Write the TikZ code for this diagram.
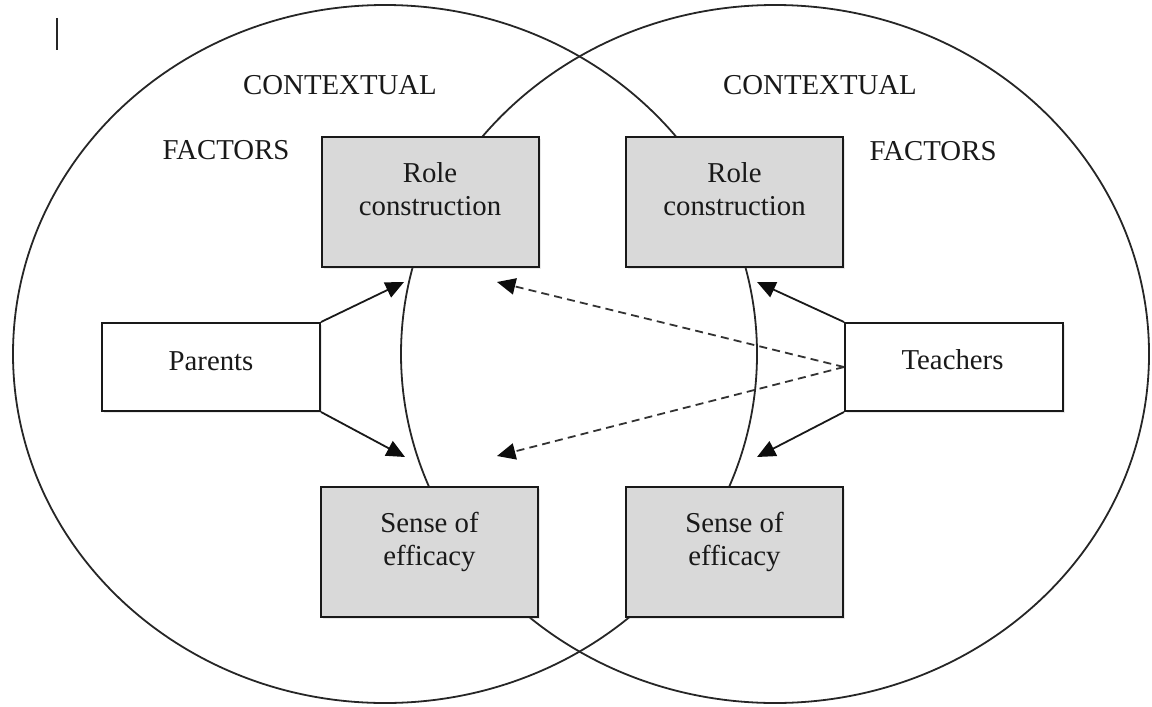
\documentclass[tikz,border=0pt]{standalone}
\usepackage{fontspec}
\setmainfont{Liberation Serif}
\usetikzlibrary{arrows.meta,shadows}

\begin{document}
\begin{tikzpicture}[x=0.25pt,y=-0.25pt,
  every node/.style={font=\fontsize{7.2pt}{8.25pt}\selectfont, text=black!90},
  ring/.style={draw=black!85, line width=0.45pt},
  factorbox/.style={draw=black!90, line width=0.5pt, fill=#1, inner sep=0pt,
    minimum width=54.25pt,
    drop shadow={shadow xshift=0.5pt, shadow yshift=-0.6pt, opacity=0.18}},
  corebox/.style={factorbox=black!15, minimum height=32.5pt},
  agentbox/.style={factorbox=white, minimum width=54.5pt, minimum height=22pt},
  label/.style={inner sep=0pt, align=center},
  link/.style={line width=0.45pt, draw=black!90,
    -{Triangle[length=4.6pt,width=4.1pt,color=black!95]}},
  crosslink/.style={link, draw=black!80, dash pattern=on 2pt off 1.3pt}]

\useasboundingbox (0,0) rectangle (1152,706);

% text cursor mark
\draw[line width=0.35pt, black!85] (57,18) -- (57,50);

% the two overlapping contexts
\draw[ring] (385,354) ellipse [x radius=93pt, y radius=87.25pt];
\draw[ring] (775,354) ellipse [x radius=93.5pt, y radius=87.25pt];

\node[label] (ctxL) at (340,85) {CONTEXTUAL};
\node[label] (facL) at (226,150) {FACTORS};
\node[label] (ctxR) at (820,85) {CONTEXTUAL};
\node[label] (facR) at (933,151) {FACTORS};

% core constructs
\node[corebox] (rcL) at (430.5,202) {};
\node[corebox] (rcR) at (734.5,202) {};
\node[corebox] (seL) at (429.5,551.5) {};
\node[corebox] (seR) at (734.5,551.5) {};

\node[label] (rcLt) at (430,189.5) {Role\\construction};
\node[label] (rcRt) at (734.5,189.5) {Role\\construction};
\node[label] (seLt) at (429.5,542) {Sense of\\efficacy};
\node[label] (seRt) at (734.5,542) {Sense of\\efficacy};

% actors
\node[agentbox] (par) at (211,367) {};
\node[agentbox] (tea) at (954,367) {};
\node[label] (part) at (211,361) {Parents};
\node[label] (teat) at (952.5,360) {Teachers};

% arrow targets
\coordinate (pu) at (404,282);
\coordinate (pd) at (405,457);
\coordinate (tu) at (757,282);
\coordinate (td) at (757,457);
\coordinate (xu) at (497,282);
\coordinate (xd) at (497,456);

\draw[link] (par.north east) -- (pu);
\draw[link] (par.south east) -- (pd);
\draw[link] (tea.north west) -- (tu);
\draw[link] (tea.south west) -- (td);
\draw[crosslink] (tea.west) -- (xu);
\draw[crosslink] (tea.west) -- (xd);
\end{tikzpicture}
\end{document}
